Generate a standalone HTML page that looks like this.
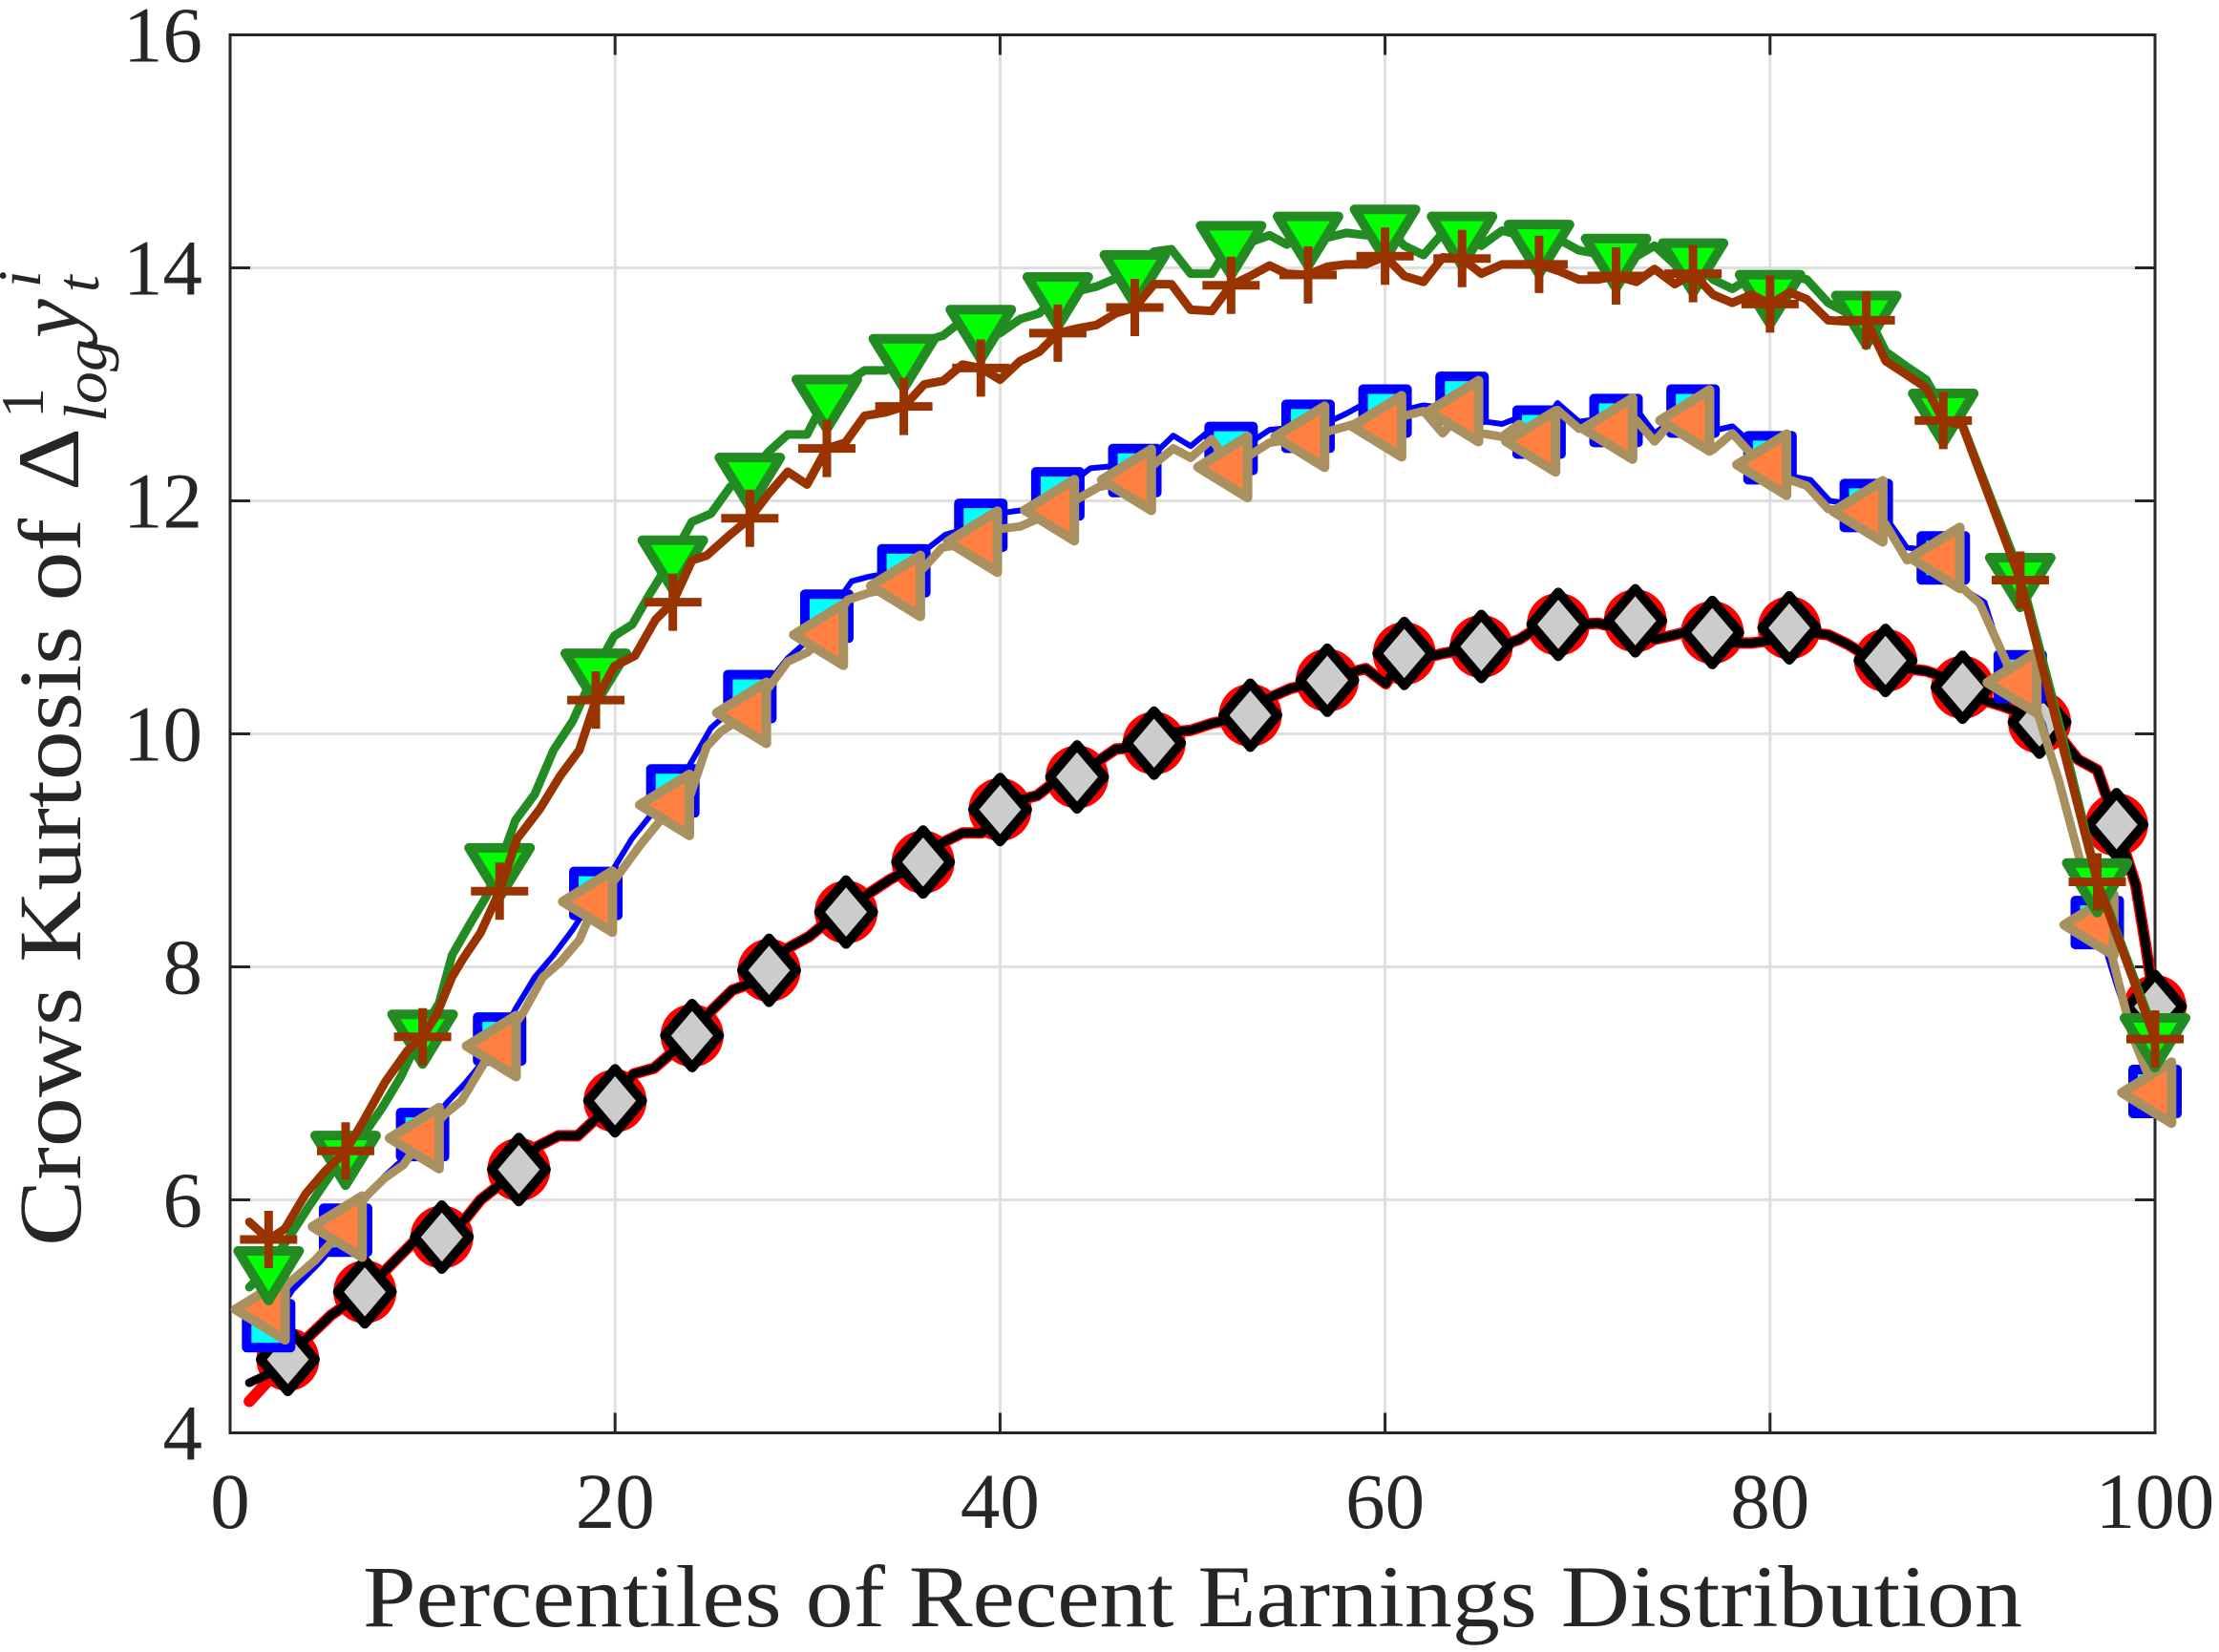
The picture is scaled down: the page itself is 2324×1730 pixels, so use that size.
<!DOCTYPE html>
<html><head><meta charset="utf-8"><style>html,body{margin:0;padding:0;background:#fff}svg{display:block}</style></head>
<body>
<svg xmlns="http://www.w3.org/2000/svg" width="2324" height="1730" viewBox="0 0 2324 1730">
<defs>
<rect id="sq" x="-23" y="-23" width="46" height="46" fill="#00FFFF" stroke="#0000FF" stroke-width="10" stroke-linejoin="round"/>
<circle id="ci" r="33" fill="#FF0000"/>
<polygon id="tv" points="-32,-17.3 32,-17.3 0,34.7" fill="#00FF00" stroke="#228B22" stroke-width="10" stroke-linejoin="round"/>
<polygon id="tl" points="-34.7,0 17.3,-32 17.3,32" fill="#FF8040" stroke="#A8915F" stroke-width="10" stroke-linejoin="round"/>
<path id="pl" d="M-30,0H30M0,-30V30" fill="none" stroke="#993300" stroke-width="9" stroke-linecap="butt"/>
<polygon id="di" points="0,-33.5 28.5,0 0,33.5 -28.5,0" fill="#CCCCCC" stroke="#000000" stroke-width="10" stroke-linejoin="round"/>
</defs>
<rect width="2324" height="1730" fill="#fff"/>
<!-- grid -->
<g stroke="#DFDFDF" stroke-width="3">
<line x1="644.2" y1="36.5" x2="644.2" y2="1500.5"/>
<line x1="1047.4" y1="36.5" x2="1047.4" y2="1500.5"/>
<line x1="1450.6" y1="36.5" x2="1450.6" y2="1500.5"/>
<line x1="1853.8" y1="36.5" x2="1853.8" y2="1500.5"/>
<line x1="241" y1="280.5" x2="2257" y2="280.5"/>
<line x1="241" y1="524.5" x2="2257" y2="524.5"/>
<line x1="241" y1="768.5" x2="2257" y2="768.5"/>
<line x1="241" y1="1012.5" x2="2257" y2="1012.5"/>
<line x1="241" y1="1256.5" x2="2257" y2="1256.5"/>
</g>
<!-- axes box and ticks -->
<g stroke="#262626" stroke-width="3" fill="none">
<rect x="241" y="36.5" width="2016" height="1464"/>
<path d="M644.2,1500.5v-21M1047.4,1500.5v-21M1450.6,1500.5v-21M1853.8,1500.5v-21
M644.2,36.5v21M1047.4,36.5v21M1450.6,36.5v21M1853.8,36.5v21
M241,280.5h21M241,524.5h21M241,768.5h21M241,1012.5h21M241,1256.5h21
M2257,280.5h-21M2257,524.5h-21M2257,768.5h-21M2257,1012.5h-21M2257,1256.5h-21"/>
</g>
<!-- tick labels -->
<g font-family="'Liberation Serif', serif" font-size="83" fill="#262626">
<g text-anchor="end">
<text x="212" y="64.5">16</text>
<text x="212" y="308.5">14</text>
<text x="212" y="552.5">12</text>
<text x="212" y="796.5">10</text>
<text x="212" y="1040.5">8</text>
<text x="212" y="1284.5">6</text>
<text x="212" y="1528.5">4</text>
</g>
<g text-anchor="middle">
<text x="241" y="1600">0</text>
<text x="644.2" y="1600">20</text>
<text x="1047.4" y="1600">40</text>
<text x="1450.6" y="1600">60</text>
<text x="1853.8" y="1600">80</text>
<text x="2257" y="1600">100</text>
</g>
</g>
<!-- axis labels -->
<g font-family="'Liberation Serif', serif" fill="#262626">
<text x="1249" y="1703" text-anchor="middle" font-size="92" textLength="1738" lengthAdjust="spacingAndGlyphs">Percentiles of Recent Earnings Distribution</text>
<text transform="translate(84,1305) rotate(-90)" font-size="93" textLength="762" lengthAdjust="spacingAndGlyphs">Crows Kurtosis of</text>
<text transform="translate(82,514) rotate(-90)" font-size="92" textLength="66" lengthAdjust="spacingAndGlyphs">Δ</text>
<text transform="translate(45,438) rotate(-90)" font-size="64">1</text>
<text transform="translate(111,442) rotate(-90)" font-size="64" font-style="italic" textLength="87" lengthAdjust="spacingAndGlyphs">log</text>
<text transform="translate(82,354) rotate(-90)" font-size="92" font-style="italic">y</text>
<text transform="translate(42,301) rotate(-90)" font-size="64" font-style="italic">i</text>
<text transform="translate(103,306) rotate(-90)" font-size="64" font-style="italic">t</text>
</g>
<!-- data -->
<g transform="matrix(20.16 0 0 -122 241 1988.5)" fill="none" stroke-linejoin="round" stroke-linecap="round">
<!-- red -->
<polyline vector-effect="non-scaling-stroke" stroke="#FF0000" stroke-width="12" points="1,4.27 2,4.45 3,4.63 3.92,4.8 5.24,5.01 7,5.21 8.22,5.42 9.54,5.64 11,5.68 12.19,5.83 13.01,6 15,6.26 15.99,6.46 17.06,6.55 18.06,6.55 20,6.85 20.95,7.08 22.02,7.13 24,7.41 24.98,7.62 26.09,7.8 27.09,7.86 28,7.97 28.97,8.16 30.08,8.26 30.96,8.38 32,8.47 33.18,8.63 34.28,8.75 36,8.9 36.94,9.06 38.05,9.15 39.05,9.15 40,9.35 40.93,9.43 41.92,9.47 42.7,9.57 44,9.63 45.13,9.77 46.02,9.87 46.9,9.88 48,9.92 49.12,10.02 49.9,10.03 51,10.09 53,10.16 54,10.31 55.1,10.39 57,10.46 58,10.52 59,10.56 60.04,10.43 61,10.69 62,10.65 63,10.69 64,10.72 65,10.75 66.08,10.76 66.97,10.81 68,10.92 69,10.94 70.07,10.94 71.06,10.95 72,10.91 73,10.97 74,10.81 75.05,10.85 76,10.89 77,10.87 78.04,10.78 79.04,10.78 80,10.8 81,10.91 81.91,10.87 83.02,10.85 84.02,10.77 85.01,10.67 86,10.63 87.12,10.56 88.11,10.54 89,10.49 90,10.4 91.05,10.29 92.05,10.24 93.04,10.18 94,10.1 95,9.99 96,9.78 97,9.69 98,9.22 99,8.7 99.5,8.2 100,7.66"/>
<use href="#ci" transform="translate(3 4.63) scale(.049603 -.0081967)"/>
<use href="#ci" transform="translate(7 5.21) scale(.049603 -.0081967)"/>
<use href="#ci" transform="translate(11 5.68) scale(.049603 -.0081967)"/>
<use href="#ci" transform="translate(15 6.26) scale(.049603 -.0081967)"/>
<use href="#ci" transform="translate(20 6.85) scale(.049603 -.0081967)"/>
<use href="#ci" transform="translate(24 7.41) scale(.049603 -.0081967)"/>
<use href="#ci" transform="translate(28 7.97) scale(.049603 -.0081967)"/>
<use href="#ci" transform="translate(32 8.47) scale(.049603 -.0081967)"/>
<use href="#ci" transform="translate(36 8.9) scale(.049603 -.0081967)"/>
<use href="#ci" transform="translate(40 9.35) scale(.049603 -.0081967)"/>
<use href="#ci" transform="translate(44 9.63) scale(.049603 -.0081967)"/>
<use href="#ci" transform="translate(48 9.92) scale(.049603 -.0081967)"/>
<use href="#ci" transform="translate(53 10.16) scale(.049603 -.0081967)"/>
<use href="#ci" transform="translate(57 10.46) scale(.049603 -.0081967)"/>
<use href="#ci" transform="translate(61 10.69) scale(.049603 -.0081967)"/>
<use href="#ci" transform="translate(65 10.75) scale(.049603 -.0081967)"/>
<use href="#ci" transform="translate(69 10.94) scale(.049603 -.0081967)"/>
<use href="#ci" transform="translate(73 10.97) scale(.049603 -.0081967)"/>
<use href="#ci" transform="translate(77 10.87) scale(.049603 -.0081967)"/>
<use href="#ci" transform="translate(81 10.91) scale(.049603 -.0081967)"/>
<use href="#ci" transform="translate(86 10.63) scale(.049603 -.0081967)"/>
<use href="#ci" transform="translate(90 10.4) scale(.049603 -.0081967)"/>
<use href="#ci" transform="translate(94 10.1) scale(.049603 -.0081967)"/>
<use href="#ci" transform="translate(98 9.22) scale(.049603 -.0081967)"/>
<use href="#ci" transform="translate(100 7.66) scale(.049603 -.0081967)"/>
<!-- black -->
<polyline vector-effect="non-scaling-stroke" stroke="#000000" stroke-width="9" points="1,4.43 1.93,4.5 3,4.63 3.92,4.8 5.24,5.01 7,5.21 8.22,5.42 9.54,5.64 11,5.68 12.19,5.83 13.01,6 15,6.26 15.99,6.46 17.06,6.55 18.06,6.55 20,6.85 20.95,7.08 22.02,7.13 24,7.41 24.98,7.62 26.09,7.8 27.09,7.86 28,7.97 28.97,8.16 30.08,8.26 30.96,8.38 32,8.47 33.18,8.63 34.28,8.75 36,8.9 36.94,9.06 38.05,9.15 39.05,9.15 40,9.35 40.93,9.43 41.92,9.47 42.7,9.57 44,9.63 45.13,9.77 46.02,9.87 46.9,9.88 48,9.92 49.12,10.02 49.9,10.03 51,10.09 53,10.16 54,10.31 55.1,10.39 57,10.46 58,10.52 59,10.56 60.04,10.43 61,10.69 62,10.65 63,10.69 64,10.72 65,10.75 66.08,10.76 66.97,10.81 68,10.92 69,10.94 70.07,10.94 71.06,10.95 72,10.91 73,10.97 74,10.81 75.05,10.85 76,10.89 77,10.87 78.04,10.78 79.04,10.78 80,10.8 81,10.91 81.91,10.87 83.02,10.85 84.02,10.77 85.01,10.67 86,10.63 87.12,10.56 88.11,10.54 89,10.49 90,10.4 91.05,10.29 92.05,10.24 93.04,10.18 94,10.1 95,9.99 96,9.78 97,9.69 98,9.22 99,8.7 99.5,8.2 100,7.66"/>
<use href="#di" transform="translate(3 4.63) scale(.049603 -.0081967)"/>
<use href="#di" transform="translate(7 5.21) scale(.049603 -.0081967)"/>
<use href="#di" transform="translate(11 5.68) scale(.049603 -.0081967)"/>
<use href="#di" transform="translate(15 6.26) scale(.049603 -.0081967)"/>
<use href="#di" transform="translate(20 6.85) scale(.049603 -.0081967)"/>
<use href="#di" transform="translate(24 7.41) scale(.049603 -.0081967)"/>
<use href="#di" transform="translate(28 7.97) scale(.049603 -.0081967)"/>
<use href="#di" transform="translate(32 8.47) scale(.049603 -.0081967)"/>
<use href="#di" transform="translate(36 8.9) scale(.049603 -.0081967)"/>
<use href="#di" transform="translate(40 9.35) scale(.049603 -.0081967)"/>
<use href="#di" transform="translate(44 9.63) scale(.049603 -.0081967)"/>
<use href="#di" transform="translate(48 9.92) scale(.049603 -.0081967)"/>
<use href="#di" transform="translate(53 10.16) scale(.049603 -.0081967)"/>
<use href="#di" transform="translate(57 10.46) scale(.049603 -.0081967)"/>
<use href="#di" transform="translate(61 10.69) scale(.049603 -.0081967)"/>
<use href="#di" transform="translate(65 10.75) scale(.049603 -.0081967)"/>
<use href="#di" transform="translate(69 10.94) scale(.049603 -.0081967)"/>
<use href="#di" transform="translate(73 10.97) scale(.049603 -.0081967)"/>
<use href="#di" transform="translate(77 10.87) scale(.049603 -.0081967)"/>
<use href="#di" transform="translate(81 10.91) scale(.049603 -.0081967)"/>
<use href="#di" transform="translate(86 10.63) scale(.049603 -.0081967)"/>
<use href="#di" transform="translate(90 10.4) scale(.049603 -.0081967)"/>
<use href="#di" transform="translate(94 10.1) scale(.049603 -.0081967)"/>
<use href="#di" transform="translate(98 9.22) scale(.049603 -.0081967)"/>
<use href="#di" transform="translate(100 7.66) scale(.049603 -.0081967)"/>
<!-- blue -->
<polyline vector-effect="non-scaling-stroke" stroke="#0000FF" stroke-width="6" points="1,4.95 2,4.92 3.26,5.23 4.75,5.48 6,5.74 7,6 8,6.2 9,6.35 10,6.56 11.19,6.82 12.2,7 13.2,7.2 14,7.38 14.83,7.64 15.82,7.91 16.8,8.1 17.8,8.32 19,8.63 19.95,8.85 20.87,9.1 21.94,9.32 23,9.51 23.76,9.7 24.98,10.05 26,10.2 27,10.32 28,10.45 28.97,10.65 30,10.8 31,11.01 32.29,11.31 33.2,11.35 35,11.4 36.06,11.57 37.16,11.71 38,11.75 39,11.79 40.26,11.9 41.15,11.92 43,12.06 44.69,12.28 46,12.3 47,12.26 48,12.4 49,12.56 49.9,12.47 51,12.62 52,12.45 53,12.5 54,12.61 56,12.64 57.1,12.68 58,12.75 59,12.84 60,12.77 61,12.78 62,12.82 63,12.8 64,12.88 65.2,12.68 66.08,12.66 67,12.72 68,12.59 68.96,12.84 70.07,12.68 71,12.7 72,12.69 73,12.8 74,12.58 75,12.7 76,12.77 77,12.6 78.04,12.64 79,12.5 80,12.37 81.1,12.21 82.1,12.18 83.1,12 84,11.98 85,11.96 86.26,11.8 87.1,11.6 88,11.58 89,11.51 90.06,11.24 91.14,11.13 92.05,10.66 93,10.49 94.2,10.08 95.35,9.34 97,8.38 98,7.85 99,7.35 100,6.93"/>
<use href="#sq" transform="translate(2 4.92) scale(.049603 -.0081967)"/>
<use href="#sq" transform="translate(6 5.74) scale(.049603 -.0081967)"/>
<use href="#sq" transform="translate(10 6.56) scale(.049603 -.0081967)"/>
<use href="#sq" transform="translate(14 7.38) scale(.049603 -.0081967)"/>
<use href="#sq" transform="translate(19 8.63) scale(.049603 -.0081967)"/>
<use href="#sq" transform="translate(23 9.51) scale(.049603 -.0081967)"/>
<use href="#sq" transform="translate(27 10.32) scale(.049603 -.0081967)"/>
<use href="#sq" transform="translate(31 11.01) scale(.049603 -.0081967)"/>
<use href="#sq" transform="translate(35 11.4) scale(.049603 -.0081967)"/>
<use href="#sq" transform="translate(39 11.79) scale(.049603 -.0081967)"/>
<use href="#sq" transform="translate(43 12.06) scale(.049603 -.0081967)"/>
<use href="#sq" transform="translate(47 12.26) scale(.049603 -.0081967)"/>
<use href="#sq" transform="translate(52 12.45) scale(.049603 -.0081967)"/>
<use href="#sq" transform="translate(56 12.64) scale(.049603 -.0081967)"/>
<use href="#sq" transform="translate(60 12.77) scale(.049603 -.0081967)"/>
<use href="#sq" transform="translate(64 12.88) scale(.049603 -.0081967)"/>
<use href="#sq" transform="translate(68 12.59) scale(.049603 -.0081967)"/>
<use href="#sq" transform="translate(72 12.69) scale(.049603 -.0081967)"/>
<use href="#sq" transform="translate(76 12.77) scale(.049603 -.0081967)"/>
<use href="#sq" transform="translate(80 12.37) scale(.049603 -.0081967)"/>
<use href="#sq" transform="translate(85 11.96) scale(.049603 -.0081967)"/>
<use href="#sq" transform="translate(89 11.51) scale(.049603 -.0081967)"/>
<use href="#sq" transform="translate(93 10.49) scale(.049603 -.0081967)"/>
<use href="#sq" transform="translate(97 8.38) scale(.049603 -.0081967)"/>
<use href="#sq" transform="translate(100 6.93) scale(.049603 -.0081967)"/>
<!-- tan -->
<polyline vector-effect="non-scaling-stroke" stroke="#A8915F" stroke-width="9" points="1,5 2,5.06 3.09,5.29 4.41,5.48 6,5.77 7.06,6.03 8.05,6.19 9,6.3 10,6.53 11.19,6.74 12.02,6.85 13.18,7.17 14,7.32 15.2,7.6 16.24,7.91 17.15,8.04 18.14,8.23 19,8.56 20,8.75 21.28,9.04 23,9.39 23.92,9.48 24.75,9.89 25.5,10.02 27,10.18 28.97,10.62 30,10.7 31,10.85 32.07,11.15 33.18,11.21 35,11.27 36.06,11.43 37,11.6 39,11.65 40.04,11.76 41.04,11.78 43,11.92 45.13,12.12 47,12.18 49,12.45 49.9,12.37 51,12.53 52,12.29 54,12.5 56,12.55 58,12.64 59,12.69 60,12.64 61,12.73 62,12.77 63,12.58 64,12.77 65,12.58 66.08,12.55 66.97,12.66 68,12.51 68.96,12.78 70.07,12.62 71.06,12.62 72,12.62 73.06,12.69 74,12.51 75.05,12.71 76,12.69 77.04,12.44 78.04,12.58 79.04,12.4 80,12.31 81.03,12.18 81.91,12.13 83.02,11.93 84.02,11.91 85,11.91 86,11.8 87.12,11.49 88.1,11.56 89,11.51 89.73,11.29 90.9,11.12 92.4,10.57 93,10.44 93.9,10.18 95,9.6 97,8.36 97.75,8.1 98.8,7.42 100,6.92"/>
<use href="#tl" transform="translate(2 5.06) scale(.049603 -.0081967)"/>
<use href="#tl" transform="translate(6 5.77) scale(.049603 -.0081967)"/>
<use href="#tl" transform="translate(10 6.53) scale(.049603 -.0081967)"/>
<use href="#tl" transform="translate(14 7.32) scale(.049603 -.0081967)"/>
<use href="#tl" transform="translate(19 8.56) scale(.049603 -.0081967)"/>
<use href="#tl" transform="translate(23 9.39) scale(.049603 -.0081967)"/>
<use href="#tl" transform="translate(27 10.18) scale(.049603 -.0081967)"/>
<use href="#tl" transform="translate(31 10.85) scale(.049603 -.0081967)"/>
<use href="#tl" transform="translate(35 11.27) scale(.049603 -.0081967)"/>
<use href="#tl" transform="translate(39 11.65) scale(.049603 -.0081967)"/>
<use href="#tl" transform="translate(43 11.92) scale(.049603 -.0081967)"/>
<use href="#tl" transform="translate(47 12.18) scale(.049603 -.0081967)"/>
<use href="#tl" transform="translate(52 12.29) scale(.049603 -.0081967)"/>
<use href="#tl" transform="translate(56 12.55) scale(.049603 -.0081967)"/>
<use href="#tl" transform="translate(60 12.64) scale(.049603 -.0081967)"/>
<use href="#tl" transform="translate(64 12.77) scale(.049603 -.0081967)"/>
<use href="#tl" transform="translate(68 12.51) scale(.049603 -.0081967)"/>
<use href="#tl" transform="translate(72 12.62) scale(.049603 -.0081967)"/>
<use href="#tl" transform="translate(76 12.69) scale(.049603 -.0081967)"/>
<use href="#tl" transform="translate(80 12.31) scale(.049603 -.0081967)"/>
<use href="#tl" transform="translate(85 11.91) scale(.049603 -.0081967)"/>
<use href="#tl" transform="translate(89 11.51) scale(.049603 -.0081967)"/>
<use href="#tl" transform="translate(93 10.44) scale(.049603 -.0081967)"/>
<use href="#tl" transform="translate(97 8.36) scale(.049603 -.0081967)"/>
<use href="#tl" transform="translate(100 6.92) scale(.049603 -.0081967)"/>
<!-- green -->
<polyline vector-effect="non-scaling-stroke" stroke="#228B22" stroke-width="9" points="1,5.25 2,5.42 3.26,5.73 4.08,5.94 4.9,6.14 6,6.41 7.06,6.59 7.9,6.79 8.88,7.06 10,7.45 10.86,7.69 11.53,8.1 12.5,8.38 13.3,8.6 14,8.88 14.83,9.26 15.82,9.48 16.8,9.86 17.8,10.11 19,10.55 19.95,10.84 20.9,10.94 21.8,11.2 23,11.52 23.99,11.82 24.98,11.89 25.98,12.12 27,12.23 27.97,12.42 28.97,12.57 29.97,12.57 31,12.9 32.96,13.12 34.06,13.12 35,13.25 36.06,13.37 37.05,13.42 38.05,13.55 39,13.5 40,13.44 41.04,13.56 42.04,13.61 43,13.78 44.03,13.8 45.02,13.84 46.02,13.91 47,13.97 48,14.14 48.9,14.16 49.9,13.95 51,13.95 52,14.22 53,14.22 54,14.28 54.9,14.2 56,14.3 57,14.26 58,14.3 59,14.28 60,14.36 61,14.19 62,14.11 63,14.3 64,14.3 65,14.19 66.08,14.32 66.97,14.28 68,14.23 69.07,14.24 70.07,14.15 71.06,14.12 72,14.11 73.06,14.1 74,14.19 75.05,14.03 76,14.07 77.04,13.9 78.04,13.82 79.04,13.92 80,13.8 81.03,13.93 81.91,13.9 83.02,13.7 84.02,13.61 85,13.62 86.01,13.28 87.12,13.15 88.11,13.04 89,12.78 89.98,12.66 91.4,12.05 93,11.37 95,10.1 97,8.75 100,7.42"/>
<use href="#tv" transform="translate(2 5.42) scale(.049603 -.0081967)"/>
<use href="#tv" transform="translate(6 6.41) scale(.049603 -.0081967)"/>
<use href="#tv" transform="translate(10 7.45) scale(.049603 -.0081967)"/>
<use href="#tv" transform="translate(14 8.88) scale(.049603 -.0081967)"/>
<use href="#tv" transform="translate(19 10.55) scale(.049603 -.0081967)"/>
<use href="#tv" transform="translate(23 11.52) scale(.049603 -.0081967)"/>
<use href="#tv" transform="translate(27 12.23) scale(.049603 -.0081967)"/>
<use href="#tv" transform="translate(31 12.9) scale(.049603 -.0081967)"/>
<use href="#tv" transform="translate(35 13.25) scale(.049603 -.0081967)"/>
<use href="#tv" transform="translate(39 13.5) scale(.049603 -.0081967)"/>
<use href="#tv" transform="translate(43 13.78) scale(.049603 -.0081967)"/>
<use href="#tv" transform="translate(47 13.97) scale(.049603 -.0081967)"/>
<use href="#tv" transform="translate(52 14.22) scale(.049603 -.0081967)"/>
<use href="#tv" transform="translate(56 14.3) scale(.049603 -.0081967)"/>
<use href="#tv" transform="translate(60 14.36) scale(.049603 -.0081967)"/>
<use href="#tv" transform="translate(64 14.3) scale(.049603 -.0081967)"/>
<use href="#tv" transform="translate(68 14.23) scale(.049603 -.0081967)"/>
<use href="#tv" transform="translate(72 14.11) scale(.049603 -.0081967)"/>
<use href="#tv" transform="translate(76 14.07) scale(.049603 -.0081967)"/>
<use href="#tv" transform="translate(80 13.8) scale(.049603 -.0081967)"/>
<use href="#tv" transform="translate(85 13.62) scale(.049603 -.0081967)"/>
<use href="#tv" transform="translate(89 12.78) scale(.049603 -.0081967)"/>
<use href="#tv" transform="translate(93 11.37) scale(.049603 -.0081967)"/>
<use href="#tv" transform="translate(97 8.75) scale(.049603 -.0081967)"/>
<use href="#tv" transform="translate(100 7.42) scale(.049603 -.0081967)"/>
<!-- brown -->
<polyline vector-effect="non-scaling-stroke" stroke="#993300" stroke-width="9" points="1,5.81 2,5.66 2.84,5.75 3.92,6.05 4.9,6.24 6,6.42 6.9,6.67 8.05,7.01 9.21,7.28 10,7.4 10.7,7.58 11.52,7.91 12.1,8.07 13,8.29 14,8.65 14.91,9.1 16.07,9.35 17.15,9.64 18.14,9.86 19,10.29 19.96,10.58 21.03,10.67 22.1,10.98 23,11.13 24,11.49 24.75,11.53 25.98,11.71 27,11.85 27.97,12.06 28.97,12.25 29.97,12.14 31,12.45 31.96,12.5 32.96,12.73 34.06,12.76 35,12.81 36.06,13 37.05,13.03 38.05,13.17 39,13.14 40,13.04 41.04,13.2 42.04,13.28 43,13.44 44.03,13.48 45.02,13.51 46.02,13.61 47,13.66 48,13.86 48.9,13.86 49.9,13.64 51,13.63 52,13.85 53,13.93 54,14.02 54.88,13.95 56,13.94 57,14.01 58,14.03 59,14.03 60,14.1 61,13.93 62,13.88 63,14.09 64,14.08 65,13.95 66.08,14.03 66.97,14.03 68,14.03 69.07,13.97 70.07,13.9 71.06,13.9 72,13.93 73.06,13.88 74,13.99 75.05,13.86 76,13.95 77.04,13.77 78.04,13.7 79.04,13.77 80,13.69 81.03,13.79 81.91,13.73 83.02,13.55 84.02,13.54 85,13.55 86.01,13.2 87.12,13.08 88.11,12.97 89,12.69 89.98,12.65 93,11.32 97,8.73 100,7.38"/>
<use href="#pl" transform="translate(2 5.66) scale(.049603 -.0081967)"/>
<use href="#pl" transform="translate(6 6.42) scale(.049603 -.0081967)"/>
<use href="#pl" transform="translate(10 7.4) scale(.049603 -.0081967)"/>
<use href="#pl" transform="translate(14 8.65) scale(.049603 -.0081967)"/>
<use href="#pl" transform="translate(19 10.29) scale(.049603 -.0081967)"/>
<use href="#pl" transform="translate(23 11.13) scale(.049603 -.0081967)"/>
<use href="#pl" transform="translate(27 11.85) scale(.049603 -.0081967)"/>
<use href="#pl" transform="translate(31 12.45) scale(.049603 -.0081967)"/>
<use href="#pl" transform="translate(35 12.81) scale(.049603 -.0081967)"/>
<use href="#pl" transform="translate(39 13.14) scale(.049603 -.0081967)"/>
<use href="#pl" transform="translate(43 13.44) scale(.049603 -.0081967)"/>
<use href="#pl" transform="translate(47 13.66) scale(.049603 -.0081967)"/>
<use href="#pl" transform="translate(52 13.85) scale(.049603 -.0081967)"/>
<use href="#pl" transform="translate(56 13.94) scale(.049603 -.0081967)"/>
<use href="#pl" transform="translate(60 14.1) scale(.049603 -.0081967)"/>
<use href="#pl" transform="translate(64 14.08) scale(.049603 -.0081967)"/>
<use href="#pl" transform="translate(68 14.03) scale(.049603 -.0081967)"/>
<use href="#pl" transform="translate(72 13.93) scale(.049603 -.0081967)"/>
<use href="#pl" transform="translate(76 13.95) scale(.049603 -.0081967)"/>
<use href="#pl" transform="translate(80 13.69) scale(.049603 -.0081967)"/>
<use href="#pl" transform="translate(85 13.55) scale(.049603 -.0081967)"/>
<use href="#pl" transform="translate(89 12.69) scale(.049603 -.0081967)"/>
<use href="#pl" transform="translate(93 11.32) scale(.049603 -.0081967)"/>
<use href="#pl" transform="translate(97 8.73) scale(.049603 -.0081967)"/>
<use href="#pl" transform="translate(100 7.38) scale(.049603 -.0081967)"/>
</g>
</svg>
</body></html>
